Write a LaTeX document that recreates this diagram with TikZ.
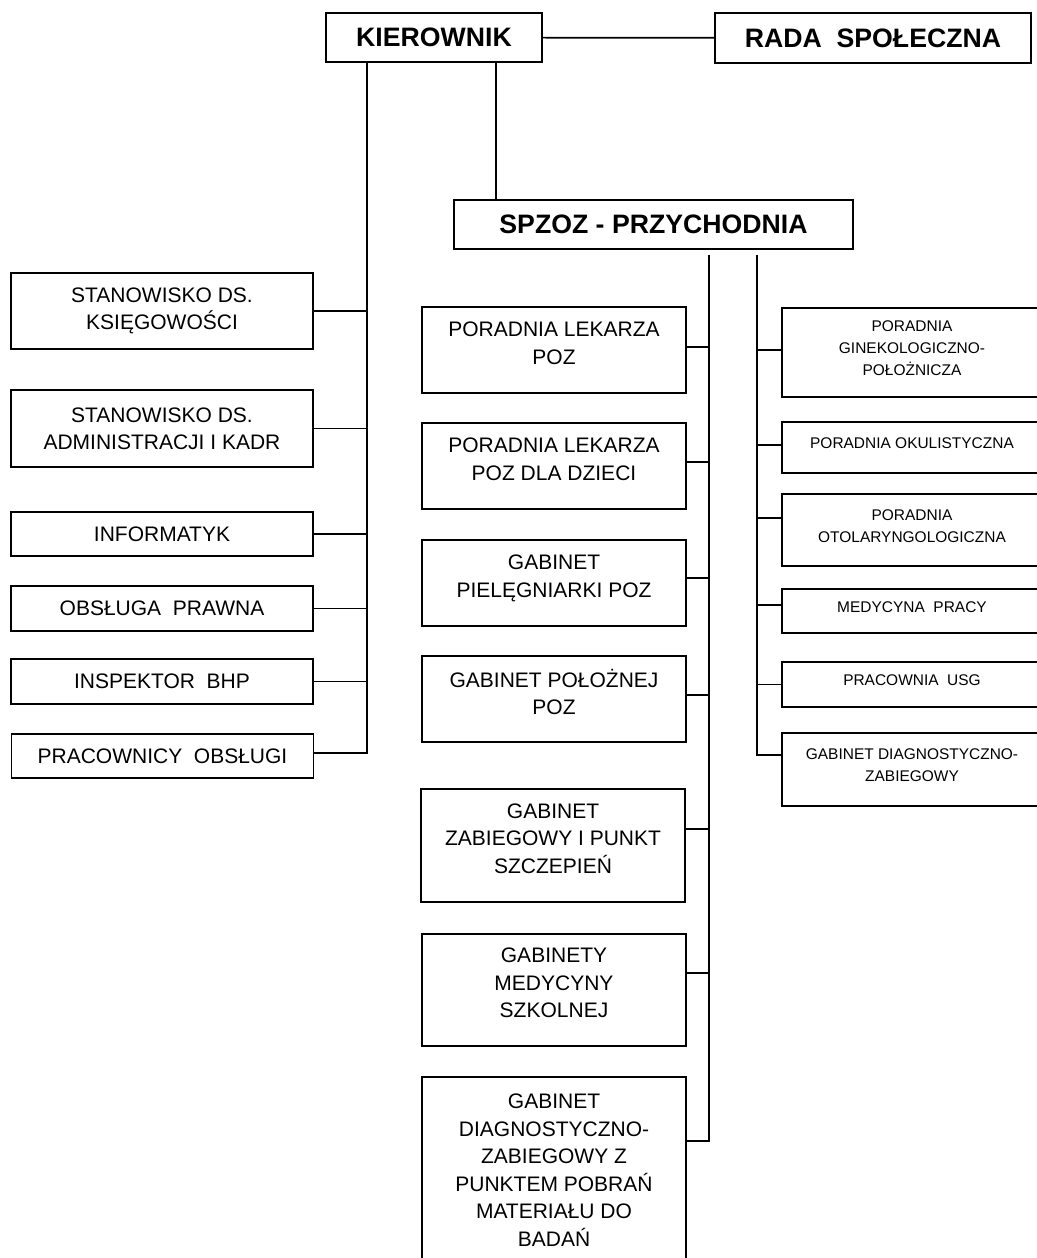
\documentclass[tikz,border=0pt]{standalone}
\usepackage{fontspec}
\setmainfont{Liberation Sans}
\begin{document}
\begin{tikzpicture}[x=0.75pt,y=-0.75pt,line width=1.3pt,
  head/.style={draw,inner sep=0pt,font=\fontsize{20}{24}\selectfont\bfseries},
  lbox/.style={draw,inner sep=0pt,align=center,minimum width=226.5pt,font=\fontsize{15.75}{20.6}\selectfont},
  mbox/.style={draw,inner sep=0pt,align=center,minimum width=198pt,text depth=10.5pt,font=\fontsize{15.75}{20.6}\selectfont},
  rbox/.style={draw,inner sep=0pt,align=center,minimum width=195pt,text depth=6pt,font=\fontsize{11.6}{16.5}\selectfont}]
  \useasboundingbox (0,0) rectangle (1037,1258);
  % Top
  \node[head,minimum width=162pt,minimum height=36.75pt] (kier) at (434,37.5) {KIEROWNIK};
  \node[head,minimum width=237pt,minimum height=37.5pt] (rada) at (873,38) {RADA\ \ SPOŁECZNA};
  \node[head,minimum width=299.25pt,minimum height=36.75pt] (spzoz) at (653.5,224.5) {SPZOZ - PRZYCHODNIA};
  % Left column
  \node[lbox,minimum height=57pt] (ksieg) at (162,311) {STANOWISKO DS.\\KSIĘGOWOŚCI};
  \node[lbox,minimum height=57.75pt] (kadr) at (162,428.5) {STANOWISKO DS.\\ADMINISTRACJI I KADR};
  \node[lbox,minimum height=33pt] (inf) at (162,534) {INFORMATYK};
  \node[lbox,minimum height=33.75pt] (prawna) at (162,608.5) {OBSŁUGA\ \ PRAWNA};
  \node[lbox,minimum height=33.75pt] (bhp) at (162,681.5) {INSPEKTOR\ \ BHP};
  \node[lbox,minimum height=33pt] (obsl) at (162.5,756) {PRACOWNICY\ \ OBSŁUGI};
  % Middle column
  \node[mbox,minimum height=64.5pt] (lek) at (554,350) {PORADNIA LEKARZA\\POZ};
  \node[mbox,minimum height=64.5pt] (dzieci) at (554,466) {PORADNIA LEKARZA\\POZ DLA DZIECI};
  \node[mbox,minimum height=64.5pt] (piel) at (554,583) {GABINET\\PIELĘGNIARKI POZ};
  \node[mbox,minimum height=64.5pt] (pol) at (554,699) {GABINET POŁOŻNEJ\\POZ};
  \node[mbox,minimum height=84.75pt] (zab) at (553,845.5) {GABINET\\ZABIEGOWY I PUNKT\\SZCZEPIEŃ};
  \node[mbox,minimum height=84pt] (szk) at (554,990) {GABINETY\\MEDYCYNY\\SZKOLNEJ};
  \node[mbox,text depth=0pt,minimum height=139.5pt] (diag) at (554,1170) {GABINET\\DIAGNOSTYCZNO-\\ZABIEGOWY Z\\PUNKTEM POBRAŃ\\MATERIAŁU DO\\BADAŃ};
  % Right column
  \node[rbox,minimum height=66.75pt] (gin) at (912,352.5) {PORADNIA\\GINEKOLOGICZNO-\\POŁOŻNICZA};
  \node[rbox,minimum height=38.25pt] (oku) at (912,447.5) {PORADNIA OKULISTYCZNA};
  \node[rbox,minimum height=54pt] (oto) at (912,530) {PORADNIA\\OTOLARYNGOLOGICZNA};
  \node[rbox,minimum height=33pt] (med) at (912,611) {MEDYCYNA\ \ PRACY};
  \node[rbox,minimum height=33.75pt] (usg) at (912,684.5) {PRACOWNIA\ \ USG};
  \node[rbox,minimum height=54.75pt] (rdiag) at (912,769.5) {GABINET DIAGNOSTYCZNO-\\ZABIEGOWY};
  % Bus lines
  \coordinate (lbus) at (367,62);
  \coordinate (kbus) at (496,62);
  \coordinate (mbus) at (709,255);
  \coordinate (rbus) at (757,255);
  % Top connectors
  \draw (kier) -- (rada);
  \draw (kier.south -| kbus) -- (spzoz.north -| kbus);
  % Left connectors
  \draw (kier.south -| lbus) |- ([yshift=2.25pt]obsl.east);
  \draw (ksieg.east) -- (ksieg.east -| lbus);
  \draw (kadr.east) -- (kadr.east -| lbus);
  \draw (inf.east) -- (inf.east -| lbus);
  \draw (prawna.east) -- (prawna.east -| lbus);
  \draw (bhp.east) -- (bhp.east -| lbus);
  % Middle connectors
  \draw (mbus) |- ([yshift=21.75pt]diag.east);
  \draw ([yshift=2.25pt]lek.east) -- ([yshift=2.25pt]lek.east -| mbus);
  \draw ([yshift=3pt]dzieci.east) -- ([yshift=3pt]dzieci.east -| mbus);
  \draw ([yshift=3.75pt]piel.east) -- ([yshift=3.75pt]piel.east -| mbus);
  \draw ([yshift=3pt]pol.east) -- ([yshift=3pt]pol.east -| mbus);
  \draw ([yshift=12.4pt]zab.east) -- ([yshift=12.4pt]zab.east -| mbus);
  \draw ([yshift=12.75pt]szk.east) -- ([yshift=12.75pt]szk.east -| mbus);
  % Right connectors
  \draw (rbus) |- ([yshift=10.9pt]rdiag.west);
  \draw ([yshift=1.9pt]gin.west) -- ([yshift=1.9pt]gin.west -| rbus);
  \draw ([yshift=1.9pt]oku.west) -- ([yshift=1.9pt]oku.west -| rbus);
  \draw ([yshift=9pt]oto.west) -- ([yshift=9pt]oto.west -| rbus);
  \draw ([yshift=4.5pt]med.west) -- ([yshift=4.5pt]med.west -| rbus);
  \draw (usg.west) -- (usg.west -| rbus);
\end{tikzpicture}
\end{document}
